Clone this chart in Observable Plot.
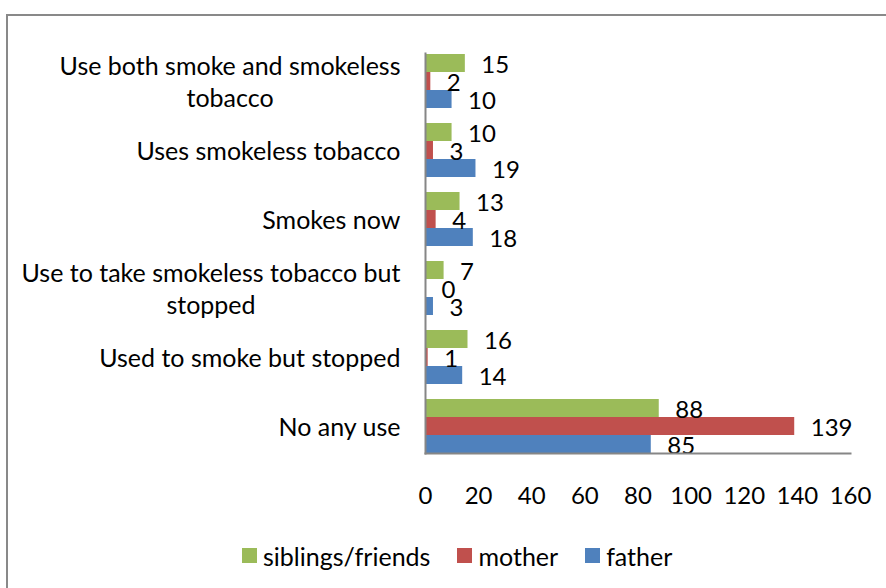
<!DOCTYPE html>
<html><head><meta charset="utf-8">
<script src="https://cdn.jsdelivr.net/npm/d3@7"></script>
<script src="https://cdn.jsdelivr.net/npm/@observablehq/plot@0.6"></script>
<style>
html,body{margin:0;padding:0;background:#fff;overflow:hidden}
#wrap{position:relative;width:886px;height:588px;overflow:hidden;font-family:Lato,sans-serif;color:#000}
#border{position:absolute;left:6px;top:14px;width:1000px;height:1000px;border:2px solid #898989;pointer-events:none}
#chart svg{display:block}
.lg-swatches{margin:0 !important;font-family:Lato,sans-serif !important;font-size:25px !important;color:#000 !important}
.lg-swatches-wrap{padding-left:242px;}
.lg-swatch > svg{margin-right:6px !important}
.lg-swatches-wrap .lg-swatch{margin-right:27px !important}
</style></head>
<body><div id="wrap"><div id="chart"></div><div id="border"></div></div>
<script>
const categories = ["Use both smoke and smokeless tobacco","Uses smokeless tobacco","Smokes now","Use to take smokeless tobacco but stopped","Used to smoke but stopped","No any use"];
const categoryLabels = ["Use both smoke and smokeless\ntobacco","Uses smokeless tobacco","Smokes now","Use to take smokeless tobacco but\nstopped","Used to smoke but stopped","No any use"];
const seriesNames = ["siblings/friends","mother","father"];
const siblingsFriends = [15,10,13,7,16,88];
const mother = [2,3,4,0,1,139];
const father = [10,19,18,3,14,85];
const seriesColors = ["#9BBB59","#C0504D","#4F81BD"];
const xTicks = [0,20,40,60,80,100,120,140,160];
const xDomain = [0,160];

const seriesValues = [siblingsFriends, mother, father];
const data = [];
categories.forEach((c, i) => seriesNames.forEach((s, j) => data.push({category: c, series: s, value: seriesValues[j][i]})));
const labelOf = new Map(categories.map((c, i) => [c, categoryLabels[i]]));

const plot = Plot.plot({
  width: 886,
  height: 539,
  marginLeft: 425,
  marginRight: 36,
  marginTop: 44,
  marginBottom: 76,
  style: {fontFamily: "Lato, sans-serif", fontSize: "24px", color: "#000", background: "#fff"},
  x: {domain: xDomain, axis: null},
  y: {domain: seriesNames, padding: 0, axis: null},
  fy: {domain: categories, paddingInner: 0.2, paddingOuter: 0.1, axis: null, label: null},
  color: {domain: seriesNames, range: seriesColors},
  marks: [
    Plot.barX(data, {x: "value", y: "series", fy: "category", fill: "series"}),
    Plot.text(data, {x: "value", y: "series", fy: "category", text: d => String(d.value), textAnchor: "start", dx: 16, dy: 1.5, fontSize: 24, fill: "#000"}),
    Plot.frame({anchor: "left", facet: "super", stroke: "#868686", strokeWidth: 2}),
    Plot.frame({anchor: "bottom", facet: "super", stroke: "#868686", strokeWidth: 2}),
    Plot.axisX({ticks: xTicks, tickSize: 0, tickPadding: 33, fontSize: 24, label: null, fill: "#000"}),
    Plot.axisFy({anchor: "left", tickSize: 0, tickPadding: 25, fontSize: 25, label: null, lineHeight: 1.25, tickFormat: d => labelOf.get(d), fill: "#000"})
  ]
});

const chart = document.getElementById("chart");
chart.appendChild(plot);
chart.appendChild(plot.legend("color", {legend: "swatches", className: "lg", swatchSize: 15}));

chart.querySelectorAll('g[aria-label="fy-axis tick label"] text').forEach(t => {
  const w = t.getBBox().width;
  t.setAttribute("text-anchor", "middle");
  t.setAttribute("transform", (t.getAttribute("transform") || "") + ` translate(${-w / 2},0)`);
});
</script>
</body></html>
